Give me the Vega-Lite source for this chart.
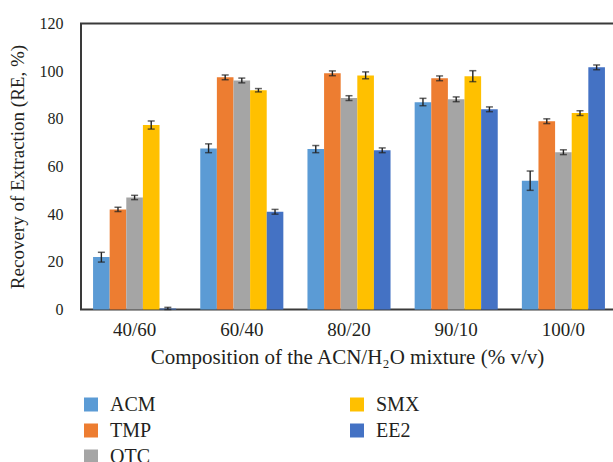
{
  "$schema": "https://vega.github.io/schema/vega-lite/v6.json",
  "autosize": {"type": "none"},
  "padding": {"left": 81, "top": 23.5, "right": 0, "bottom": 152.5},
  "width": 536,
  "height": 286,
  "background": "white",
  "config": {
    "font": "Liberation Serif",
    "view": {"stroke": "#3a3a3a", "strokeWidth": 2},
    "axis": {"labelColor": "#231f20", "titleColor": "#231f20", "titleFontWeight": "normal", "domain": false, "ticks": false, "tickSize": 0, "grid": false}
  },
  "data": {
    "values": [
      {"mix": "40/60", "compound": "ACM", "re": 22.0, "lo": 19.9, "hi": 24.0},
      {"mix": "40/60", "compound": "TMP", "re": 42.0, "lo": 41.1, "hi": 42.9},
      {"mix": "40/60", "compound": "OTC", "re": 47.0, "lo": 46.1, "hi": 47.9},
      {"mix": "40/60", "compound": "SMX", "re": 77.4, "lo": 75.7, "hi": 79.1},
      {"mix": "40/60", "compound": "EE2", "re": 0.4, "lo": 0.0, "hi": 0.9},
      {"mix": "60/40", "compound": "ACM", "re": 67.6, "lo": 65.8, "hi": 69.5},
      {"mix": "60/40", "compound": "TMP", "re": 97.4, "lo": 96.4, "hi": 98.4},
      {"mix": "60/40", "compound": "OTC", "re": 96.1, "lo": 95.1, "hi": 97.1},
      {"mix": "60/40", "compound": "SMX", "re": 92.0, "lo": 91.3, "hi": 92.7},
      {"mix": "60/40", "compound": "EE2", "re": 41.0, "lo": 40.0, "hi": 42.0},
      {"mix": "80/20", "compound": "ACM", "re": 67.3, "lo": 65.8, "hi": 68.8},
      {"mix": "80/20", "compound": "TMP", "re": 99.1, "lo": 98.1, "hi": 100.1},
      {"mix": "80/20", "compound": "OTC", "re": 88.7, "lo": 87.7, "hi": 89.7},
      {"mix": "80/20", "compound": "SMX", "re": 98.2, "lo": 96.8, "hi": 99.7},
      {"mix": "80/20", "compound": "EE2", "re": 66.8, "lo": 65.8, "hi": 67.8},
      {"mix": "90/10", "compound": "ACM", "re": 87.0, "lo": 85.5, "hi": 88.6},
      {"mix": "90/10", "compound": "TMP", "re": 97.0, "lo": 96.0, "hi": 98.0},
      {"mix": "90/10", "compound": "OTC", "re": 88.2, "lo": 87.2, "hi": 89.2},
      {"mix": "90/10", "compound": "SMX", "re": 97.9, "lo": 95.6, "hi": 100.2},
      {"mix": "90/10", "compound": "EE2", "re": 84.0, "lo": 83.0, "hi": 85.0},
      {"mix": "100/0", "compound": "ACM", "re": 54.0, "lo": 50.0, "hi": 58.1},
      {"mix": "100/0", "compound": "TMP", "re": 79.0, "lo": 78.0, "hi": 80.0},
      {"mix": "100/0", "compound": "OTC", "re": 66.0, "lo": 65.0, "hi": 67.0},
      {"mix": "100/0", "compound": "SMX", "re": 82.4, "lo": 81.4, "hi": 83.4},
      {"mix": "100/0", "compound": "EE2", "re": 101.6, "lo": 100.6, "hi": 102.6}
    ]
  },
  "encoding": {
    "x": {
      "field": "mix",
      "type": "nominal",
      "sort": ["40/60", "60/40", "80/20", "90/10", "100/0"],
      "scale": {"paddingInner": 0.225, "paddingOuter": 0.1125},
      "title": "Composition of the ACN/H₂O mixture (% v/v)",
      "axis": {"labelAngle": 0, "labelFontSize": 19, "labelPadding": 11, "titleFontSize": 21, "titlePadding": 7, "titleX": 266}
    },
    "xOffset": {"field": "compound", "type": "nominal", "sort": ["ACM", "TMP", "OTC", "SMX", "EE2"]}
  },
  "layer": [
    {
      "mark": {"type": "bar"},
      "encoding": {
        "y": {
          "field": "re",
          "type": "quantitative",
          "scale": {"domain": [0, 120], "nice": false},
          "title": "Recovery of Extraction (RE, %)",
          "axis": {"values": [0, 20, 40, 60, 80, 100, 120], "labelFontSize": 16, "labelPadding": 18, "titleFontSize": 19, "titlePadding": 12}
        },
        "color": {
          "field": "compound",
          "type": "nominal",
          "scale": {
            "domain": ["ACM", "TMP", "OTC", "SMX", "EE2"],
            "range": ["#5B9BD5", "#ED7D31", "#A5A5A5", "#FFC000", "#4472C4"]
          },
          "legend": {
            "title": null,
            "orient": "none",
            "legendX": 0,
            "legendY": 371,
            "columns": 2,
            "columnPadding": 191,
            "rowPadding": 6,
            "symbolType": "square",
            "symbolSize": 196,
            "symbolStrokeWidth": 0,
            "labelFontSize": 20,
            "labelOffset": 9,
            "labelColor": "#231f20"
          }
        }
      }
    },
    {
      "mark": {"type": "rule", "color": "#222222", "strokeWidth": 1.4},
      "encoding": {
        "y": {"field": "lo", "type": "quantitative", "title": "Recovery of Extraction (RE, %)"},
        "y2": {"field": "hi"}
      }
    },
    {
      "mark": {"type": "tick", "color": "#222222", "size": 7, "thickness": 1.5},
      "encoding": {"y": {"field": "lo", "type": "quantitative", "title": "Recovery of Extraction (RE, %)"}}
    },
    {
      "mark": {"type": "tick", "color": "#222222", "size": 7, "thickness": 1.5},
      "encoding": {"y": {"field": "hi", "type": "quantitative", "title": "Recovery of Extraction (RE, %)"}}
    }
  ]
}
